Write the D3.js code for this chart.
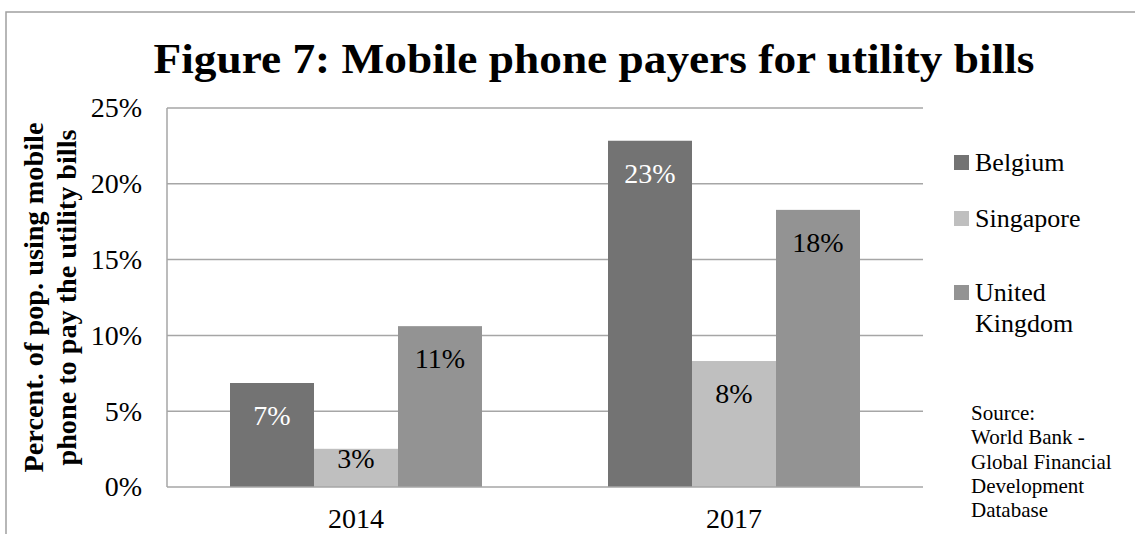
<!DOCTYPE html>
<html>
<head>
<meta charset="utf-8">
<script src="https://cdn.jsdelivr.net/npm/d3@7"></script>
<style>
  html, body { margin: 0; padding: 0; background: #fff; }
  svg { display: block; }
  text, tspan { font-family: "Liberation Serif", "DejaVu Serif", serif; }
</style>
</head>
<body>
<svg id="chart" width="1135" height="534"></svg>
<script>
// Share of population paying utility bills by mobile phone (%)
const years = ["2014", "2017"];
const countries = ["Belgium", "Singapore", "United Kingdom"];
const belgium = [6.86, 22.84];
const singapore = [2.52, 8.31];
const unitedKingdom = [10.61, 18.28];
const yTicks = [0, 5, 10, 15, 20, 25];
const sourceLines = ["Source:", "World Bank -", "Global Financial", "Development", "Database"];

const serif = "Liberation Serif, DejaVu Serif, serif";
const colors = ["#737373", "#bfbfbf", "#939393"];
const labelColors = ["#ffffff", "#000000", "#000000"];
const seriesValues = [belgium, singapore, unitedKingdom];

const svg = d3.select("#chart");

// outer frame
svg.append("rect")
  .attr("x", 6).attr("y", 12)
  .attr("width", 1200).attr("height", 600)
  .attr("fill", "none").attr("stroke", "#a0a0a0").attr("stroke-width", 1.5);

const plot = { left: 167, right: 923, top: 108, bottom: 487 };

const x0 = d3.scaleBand().domain(years).range([plot.left, plot.right]).paddingInner(1 / 3).paddingOuter(1 / 6);
const x1 = d3.scaleBand().domain(countries).range([0, x0.bandwidth()]);
const y = d3.scaleLinear().domain([0, 25]).range([plot.bottom, plot.top]);

// horizontal gridlines
svg.append("g")
  .selectAll("line")
  .data(yTicks.filter(t => t > 0))
  .join("line")
  .attr("x1", plot.left).attr("x2", plot.right)
  .attr("y1", d => y(d)).attr("y2", d => y(d))
  .attr("stroke", "#a6a6a6").attr("stroke-width", 1.5);

// y axis tick labels
const yAxis = d3.axisLeft(y).tickValues(yTicks).tickFormat(d => d + "%").tickSize(0).tickPadding(25);
const yg = svg.append("g").attr("transform", `translate(${plot.left},0)`).call(yAxis);
yg.select(".domain").remove();
yg.attr("font-family", serif);
yg.selectAll("text").attr("font-size", 28).attr("fill", "#000");

// bars
const groups = svg.append("g")
  .selectAll("g")
  .data(years)
  .join("g")
  .attr("transform", d => `translate(${x0(d)},0)`);

const cells = groups.selectAll("g")
  .data((yr, i) => countries.map((c, k) => ({ country: c, k, value: seriesValues[k][i] })))
  .join("g");

cells.append("rect")
  .attr("x", d => x1(d.country))
  .attr("width", x1.bandwidth())
  .attr("y", d => y(d.value))
  .attr("height", d => y(0) - y(d.value))
  .attr("fill", d => colors[d.k]);

cells.append("text")
  .attr("x", d => x1(d.country) + x1.bandwidth() / 2)
  .attr("y", d => Math.min(y(d.value) + 42, y(0) - 19))
  .attr("text-anchor", "middle")
  .attr("font-family", serif)
  .attr("font-size", 28)
  .attr("fill", d => labelColors[d.k])
  .text(d => Math.round(d.value) + "%");

// axes lines
svg.append("line")
  .attr("x1", plot.left).attr("x2", plot.left)
  .attr("y1", plot.top).attr("y2", plot.bottom)
  .attr("stroke", "#a6a6a6").attr("stroke-width", 1.5);
svg.append("line")
  .attr("x1", plot.left).attr("x2", plot.right)
  .attr("y1", plot.bottom).attr("y2", plot.bottom)
  .attr("stroke", "#a6a6a6").attr("stroke-width", 1.5);

// x axis labels
const xAxis = d3.axisBottom(x0).tickSize(0).tickPadding(0);
const xg = svg.append("g").attr("transform", `translate(0,${plot.bottom})`).call(xAxis);
xg.select(".domain").remove();
xg.attr("font-family", serif);
xg.selectAll("text")
  .attr("font-size", 28).attr("fill", "#000")
  .attr("dy", null).attr("y", 41);

// title
svg.append("text")
  .attr("x", 594).attr("y", 73)
  .attr("text-anchor", "middle")
  .attr("font-family", serif)
  .attr("font-size", 42).attr("font-weight", "bold")
  .attr("textLength", 881).attr("lengthAdjust", "spacingAndGlyphs")
  .text("Figure 7: Mobile phone payers for utility bills");

// y axis title
const yTitle = svg.append("text")
  .attr("transform", `translate(0,${(plot.top + plot.bottom) / 2}) rotate(-90)`)
  .attr("text-anchor", "middle")
  .attr("font-family", serif)
  .attr("font-size", 27).attr("font-weight", "bold");
yTitle.append("tspan").attr("x", 0).attr("y", 43)
  .attr("textLength", 350).attr("lengthAdjust", "spacingAndGlyphs")
  .text("Percent. of pop. using mobile");
yTitle.append("tspan").attr("x", 0).attr("y", 76)
  .attr("textLength", 336).attr("lengthAdjust", "spacingAndGlyphs")
  .text("phone to pay the utility bills");

// legend
const legendRows = [
  { k: 0, lines: ["Belgium"], y: 171 },
  { k: 1, lines: ["Singapore"], y: 227 },
  { k: 2, lines: ["United", "Kingdom"], y: 301 }
];
const legend = svg.append("g");
legendRows.forEach(r => {
  legend.append("rect")
    .attr("x", 954).attr("y", r.y - 16)
    .attr("width", 15).attr("height", 15)
    .attr("fill", colors[r.k]);
  const t = legend.append("text")
    .attr("font-family", serif)
    .attr("font-size", 26).attr("fill", "#000");
  r.lines.forEach((ln, i) => {
    t.append("tspan").attr("x", 975).attr("y", r.y + i * 31).text(ln);
  });
});

// source note
const src = svg.append("text")
  .attr("font-family", serif)
  .attr("font-size", 21).attr("fill", "#000");
sourceLines.forEach((ln, i) => {
  src.append("tspan").attr("x", 971).attr("y", 420 + i * 24.3).text(ln);
});
</script>
</body>
</html>
